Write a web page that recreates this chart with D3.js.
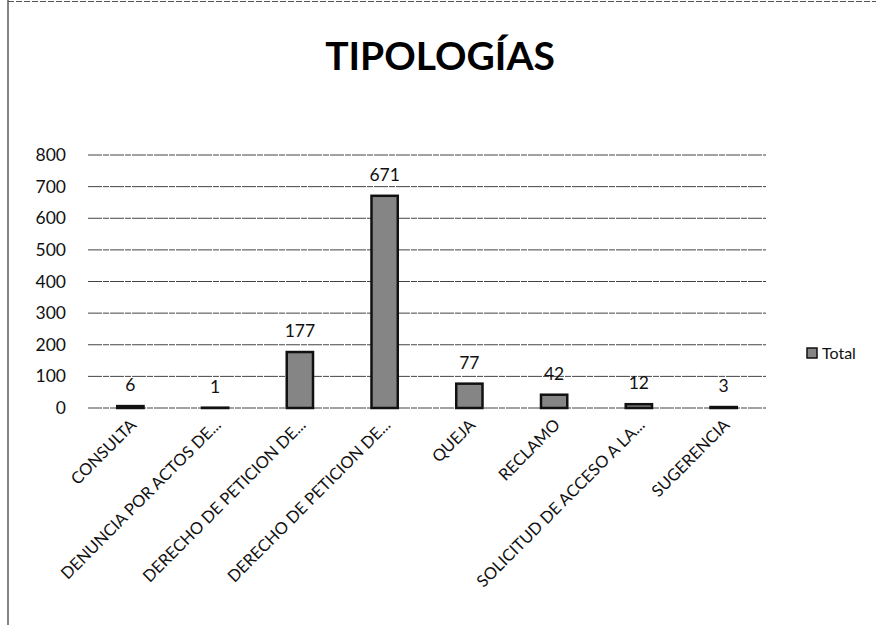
<!DOCTYPE html>
<html>
<head>
<meta charset="utf-8">
<script src="https://cdn.jsdelivr.net/npm/d3@7"></script>
<style>
  html, body { margin: 0; padding: 0; background: #fff; }
  svg { display: block; }
</style>
</head>
<body>
<svg id="chart" width="876" height="630"></svg>
<script>
const title = "TIPOLOGÍAS";
const categories = [
  "CONSULTA",
  "DENUNCIA POR ACTOS DE...",
  "DERECHO DE PETICION DE...",
  "DERECHO DE PETICION DE... ",
  "QUEJA",
  "RECLAMO",
  "SOLICITUD DE ACCESO A LA...",
  "SUGERENCIA"
];
const values = [6, 1, 177, 671, 77, 42, 12, 3];
const yTicks = [0, 100, 200, 300, 400, 500, 600, 700, 800];
const seriesName = "Total";

const svg = d3.select("#chart");
const font = "Lato, 'Open Sans', sans-serif";

// scan frame
svg.append("line").attr("x1", 8).attr("x2", 8).attr("y1", 0).attr("y2", 625)
  .attr("stroke", "#333").attr("stroke-width", 1.2);
svg.append("line").attr("x1", 8).attr("x2", 876).attr("y1", 1.5).attr("y2", 1.5)
  .attr("stroke", "#555").attr("stroke-width", 1.2).attr("stroke-dasharray", "6,2");

const plot = { left: 88, right: 766, top: 155, bottom: 408 };

const x = d3.scaleBand().domain(categories).range([plot.left, plot.right]).paddingInner(0.69).paddingOuter(0.345);
const y = d3.scaleLinear().domain([0, 800]).range([plot.bottom, plot.top]);

// title
svg.append("text").attr("x", 440).attr("y", 70).attr("text-anchor", "middle")
  .attr("font-family", font).attr("font-weight", "bold").attr("font-size", 39)
  .attr("fill", "#000").text(title);

// gridlines
svg.append("g").selectAll("line").data(yTicks).join("line")
  .attr("x1", plot.left).attr("x2", plot.right)
  .attr("y1", d => y(d)).attr("y2", d => y(d))
  .attr("stroke", "#444").attr("stroke-width", 1).attr("stroke-dasharray", "14,1,6,1");

// y axis labels
const yAxis = d3.axisLeft(y).tickValues(yTicks).tickSize(0).tickPadding(0);
const gy = svg.append("g").attr("transform", `translate(66,0)`).call(yAxis);
gy.select(".domain").remove();
gy.selectAll("text").attr("font-family", font).attr("font-size", 17.5).attr("fill", "#111");

// bars
svg.append("g").selectAll("rect").data(values).join("rect")
  .attr("x", (d, i) => x(categories[i]))
  .attr("width", x.bandwidth())
  .attr("y", d => y(d))
  .attr("height", d => y(0) - y(d))
  .attr("fill", "#858585")
  .attr("stroke", "#111").attr("stroke-width", 2.5);

// value labels
svg.append("g").selectAll("text").data(values).join("text")
  .attr("x", (d, i) => x(categories[i]) + x.bandwidth() / 2)
  .attr("y", d => y(d) - 15)
  .attr("text-anchor", "middle")
  .attr("font-family", font).attr("font-size", 17.5).attr("fill", "#111")
  .text(d => d);

// x axis labels rotated
svg.append("g").selectAll("text").data(categories).join("text")
  .attr("transform", d => `translate(${x(d) + x.bandwidth() / 2 + 7},426) rotate(-45)`)
  .attr("text-anchor", "end")
  .attr("font-family", font).attr("font-size", 16.5).attr("fill", "#111")
  .text(d => d.trim());

// legend
svg.append("rect").attr("x", 807).attr("y", 348).attr("width", 10).attr("height", 10)
  .attr("fill", "#858585").attr("stroke", "#111").attr("stroke-width", 1.5);
svg.append("text").attr("x", 822).attr("y", 359).attr("font-family", font)
  .attr("font-size", 16).attr("fill", "#111").text(seriesName);
</script>
</body>
</html>
